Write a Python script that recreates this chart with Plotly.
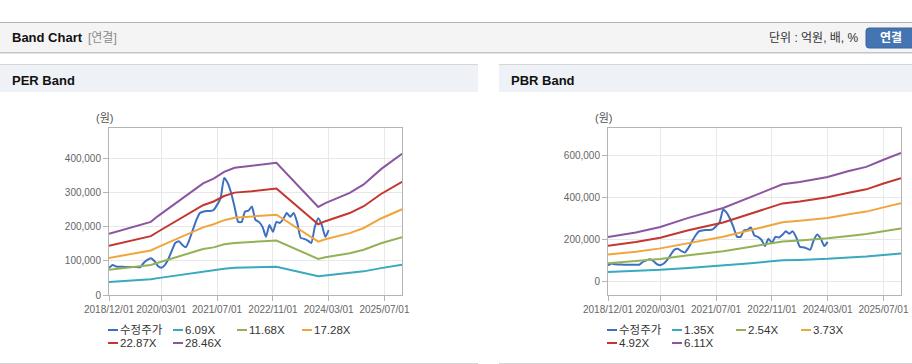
import plotly.graph_objects as go
import pandas as pd

W, H = 912, 364

# ---------------- data ----------------
price_dates = pd.date_range('2018-12-01', periods=64, freq='MS')
price_values = [79000, 88000, 84000, 83000, 83000, 82000, 82000, 82000, 82000, 82000,
                95000, 103000, 108000, 100000, 85000, 80000, 88000, 105000, 130000, 153000,
                158000, 147000, 140000, 162000, 191000, 220000, 241000, 245000, 247000, 247000,
                250000, 265000, 285000, 344000, 330000, 300000, 259000, 215000, 215000, 245000,
                248000, 260000, 221000, 215000, 201000, 171000, 206000, 186000, 215000, 212000,
                225000, 241000, 230000, 241000, 212000, 168000, 165000, 160000, 153000, 200000,
                226000, 206000, 171000, 191000]

per_dates = ['2018-12-01', '2019-05-01', '2019-12-01', '2020-02-01', '2020-10-01', '2021-03-01',
             '2021-06-01', '2021-09-01', '2021-12-01', '2022-05-01', '2022-12-01', '2023-12-01',
             '2024-02-01', '2024-09-01', '2025-01-01', '2025-06-01', '2025-12-01']
per_labels = ['6.09X', '11.68X', '17.28X', '22.87X', '28.46X']
per_b1 = [38500, 41700, 46000, 49600, 62000, 70000, 73000, 77500, 80000, 81000, 83000, 55400, 57800, 64000, 69500, 79000, 89000]
per_b2 = [74000, 80000, 88000, 95000, 119000, 135000, 140000, 149000, 153000, 156000, 160000, 106000, 111000, 123000, 133000, 152000, 170000]
per_b3 = [109000, 118000, 131000, 141000, 176000, 199000, 208000, 220000, 227000, 231000, 236000, 157000, 164000, 182000, 197000, 225000, 252000]
per_b4 = [145000, 157000, 173000, 186000, 233000, 264000, 275000, 291000, 301000, 305000, 313000, 208000, 217000, 241000, 261000, 297000, 333000]
per_b5 = [180000, 195000, 215000, 232000, 290000, 328000, 342000, 362000, 374000, 380000, 389000, 259000, 270000, 300000, 325000, 370000, 415000]

pbr_dates = ['2018-12-01', '2019-08-01', '2020-03-01', '2020-11-01', '2021-09-01', '2022-05-01',
             '2022-10-01', '2023-02-01', '2023-07-01', '2023-12-01', '2024-03-01', '2024-09-01',
             '2025-02-01', '2025-07-01', '2025-12-01']
pbr_labels = ['1.35X', '2.54X', '3.73X', '4.92X', '6.11X']
pbr_b1 = [47000, 52000, 58000, 67000, 78000, 89000, 97000, 103000, 105000, 108000, 110000, 117000, 121000, 129000, 136000]
pbr_b2 = [89000, 98000, 109000, 127000, 146000, 168000, 183000, 193000, 198000, 204000, 208000, 219000, 228000, 242000, 255000]
pbr_b3 = [131000, 144000, 160000, 186000, 215000, 247000, 269000, 284000, 291000, 299000, 305000, 322000, 335000, 355000, 375000]
pbr_b4 = [172000, 190000, 211000, 246000, 283000, 326000, 354000, 374000, 383000, 395000, 403000, 425000, 441000, 469000, 494000]
pbr_b5 = [214000, 236000, 262000, 305000, 352000, 405000, 440000, 465000, 476000, 490000, 500000, 528000, 548000, 582000, 614000]

x_tickvals = ['2018-12-01', '2020-03-01', '2021-07-01', '2022-11-01', '2024-03-01', '2025-07-01']
x_ticktext = ['2018/12/01', '2020/03/01', '2021/07/01', '2022/11/01', '2024/03/01', '2025/07/01']
price_label = '수정주가'

price_color = '#3d6fc2'
band_colors = ['#38a9bf', '#93b156', '#efa63c', '#c3372e', '#8c55a0']

FONT = 'Liberation Sans, Arial, Noto Sans CJK KR, sans-serif'


def px(x):
    return x / W


def py(y):
    return 1 - y / H


fig = go.Figure()

# PER subplot
fig.add_trace(go.Scatter(x=price_dates, y=price_values, mode='lines', name=price_label,
                         line=dict(color=price_color, width=2, shape='spline', smoothing=0.5),
                         xaxis='x', yaxis='y'))
for lab, vals, col in zip(per_labels, [per_b1, per_b2, per_b3, per_b4, per_b5], band_colors):
    fig.add_trace(go.Scatter(x=per_dates, y=vals, mode='lines', name=lab,
                             line=dict(color=col, width=2), xaxis='x', yaxis='y'))

# PBR subplot
fig.add_trace(go.Scatter(x=price_dates, y=price_values, mode='lines', name=price_label,
                         line=dict(color=price_color, width=2, shape='spline', smoothing=0.5),
                         xaxis='x2', yaxis='y2'))
for lab, vals, col in zip(pbr_labels, [pbr_b1, pbr_b2, pbr_b3, pbr_b4, pbr_b5], band_colors):
    fig.add_trace(go.Scatter(x=pbr_dates, y=vals, mode='lines', name=lab,
                             line=dict(color=col, width=2), xaxis='x2', yaxis='y2'))

axis_common = dict(showline=True, linecolor='#b4b4b4', linewidth=1, mirror=True,
                   showgrid=True, gridcolor='#e8e8e8', gridwidth=1,
                   ticks='outside', ticklen=5, tickcolor='#b4b4b4',
                   tickfont=dict(family=FONT, size=10, color='#666666'),
                   zeroline=False, fixedrange=True, automargin=False)

xaxis_common = dict(axis_common, type='date', range=['2018-12-01', '2025-12-01'],
                    tickmode='array', tickvals=x_tickvals, ticktext=x_ticktext,
                    tickangle=0)

fig.update_layout(
    template='none',
    width=W, height=H, autosize=False,
    margin=dict(l=0, r=0, t=0, b=0, pad=0),
    paper_bgcolor='white', plot_bgcolor='white',
    showlegend=False,
    xaxis=dict(xaxis_common, domain=[px(109), px(402)], anchor='y'),
    yaxis=dict(axis_common, domain=[py(295), py(128)], anchor='x',
               range=[0, 491000], tickmode='linear', tick0=0, dtick=100000,
               tickformat=',d'),
    xaxis2=dict(xaxis_common, domain=[px(608), px(901)], anchor='y2'),
    yaxis2=dict(axis_common, domain=[py(295), py(128)], anchor='x2',
                range=[-62000, 733000], tickmode='linear', tick0=0, dtick=200000,
                tickformat=',d'),
)

shapes = []
ann = []


def rect(x0, y0, x1, y1, fill, line=None):
    shapes.append(dict(type='rect', xref='paper', yref='paper', layer='below',
                       x0=px(x0), x1=px(x1), y0=py(y1), y1=py(y0),
                       fillcolor=fill, line=dict(width=0) if line is None else line))


def hline(x0, x1, y, color, width=1):
    shapes.append(dict(type='line', xref='paper', yref='paper', layer='below',
                       x0=px(x0), x1=px(x1), y0=py(y), y1=py(y),
                       line=dict(color=color, width=width)))


def text(x, y, s, size=12, color='#333333', bold=False, anchor='left'):
    ann.append(dict(xref='paper', yref='paper', x=px(x), y=py(y), text=('<b>%s</b>' % s) if bold else s,
                    showarrow=False, xanchor=anchor, yanchor='middle',
                    font=dict(family=FONT, size=size, color=color)))


# top header
rect(0, 22, 912, 52, '#f4f4f4')
hline(0, 912, 22.5, '#b4b4b4')
hline(0, 912, 52.5, '#c4c4c4')
hline(0, 912, 53.5, '#e2e2e2')
text(10, 38, 'Band Chart', size=13, color='#111111', bold=True)
text(86, 38, '[연결]', size=12, color='#8a8a8a')
text(861, 38, '단위 : 억원, 배, %', size=12, color='#333333', anchor='right')

# button (rounded)
bx0, bx1, by0, by1, r = 866, 916, 28, 48, 3
path = ('M{a},{b} L{c},{b} Q{d},{b} {d},{e} L{d},{f} Q{d},{g} {c},{g} L{a},{g} Q{h},{g} {h},{f} '
        'L{h},{e} Q{h},{b} {a},{b} Z').format(
    a=px(bx0 + r), b=py(by0), c=px(bx1 - r), d=px(bx1), e=py(by0 + r),
    f=py(by1 - r), g=py(by1), h=px(bx0))
shapes.append(dict(type='path', xref='paper', yref='paper', path=path,
                   fillcolor='#4574b3', line=dict(color='#3a66a2', width=1), layer='below'))
text(891, 38, '연결', size=12, color='white', bold=True, anchor='center')

# panels
for (x0, x1, title) in [(0, 478, 'PER Band'), (499, 912, 'PBR Band')]:
    rect(x0, 64, x1, 92, '#eef2f7')
    hline(x0, x1, 64.5, '#d6d6d6')
    hline(x0, x1, 363.5, '#d6d6d6')
    text(x0 + 10, 80, title, size=13, color='#111111', bold=True)

# unit labels
text(104, 118, '(원)', size=11, color='#555555', anchor='center')
text(603, 118, '(원)', size=11, color='#555555', anchor='center')

# manual legends
legend_pos = [(108, 330), (173, 330), (237, 330), (302, 330), (108, 343), (173, 343)]
for off, labels in [(0, per_labels), (499, pbr_labels)]:
    names = [price_label] + labels
    cols = [price_color] + band_colors
    for (lx, ly), name, col in zip(legend_pos, names, cols):
        hline(lx + off, lx + off + 10, ly, col, 2)
        text(lx + off + 10, ly, name, size=11.5, color='#333333')

fig.update_layout(shapes=shapes, annotations=ann)

fig.write_html('out.html', config={'displayModeBar': False},
               post_script="document.body.style.margin='0';document.body.style.overflow='hidden';")
